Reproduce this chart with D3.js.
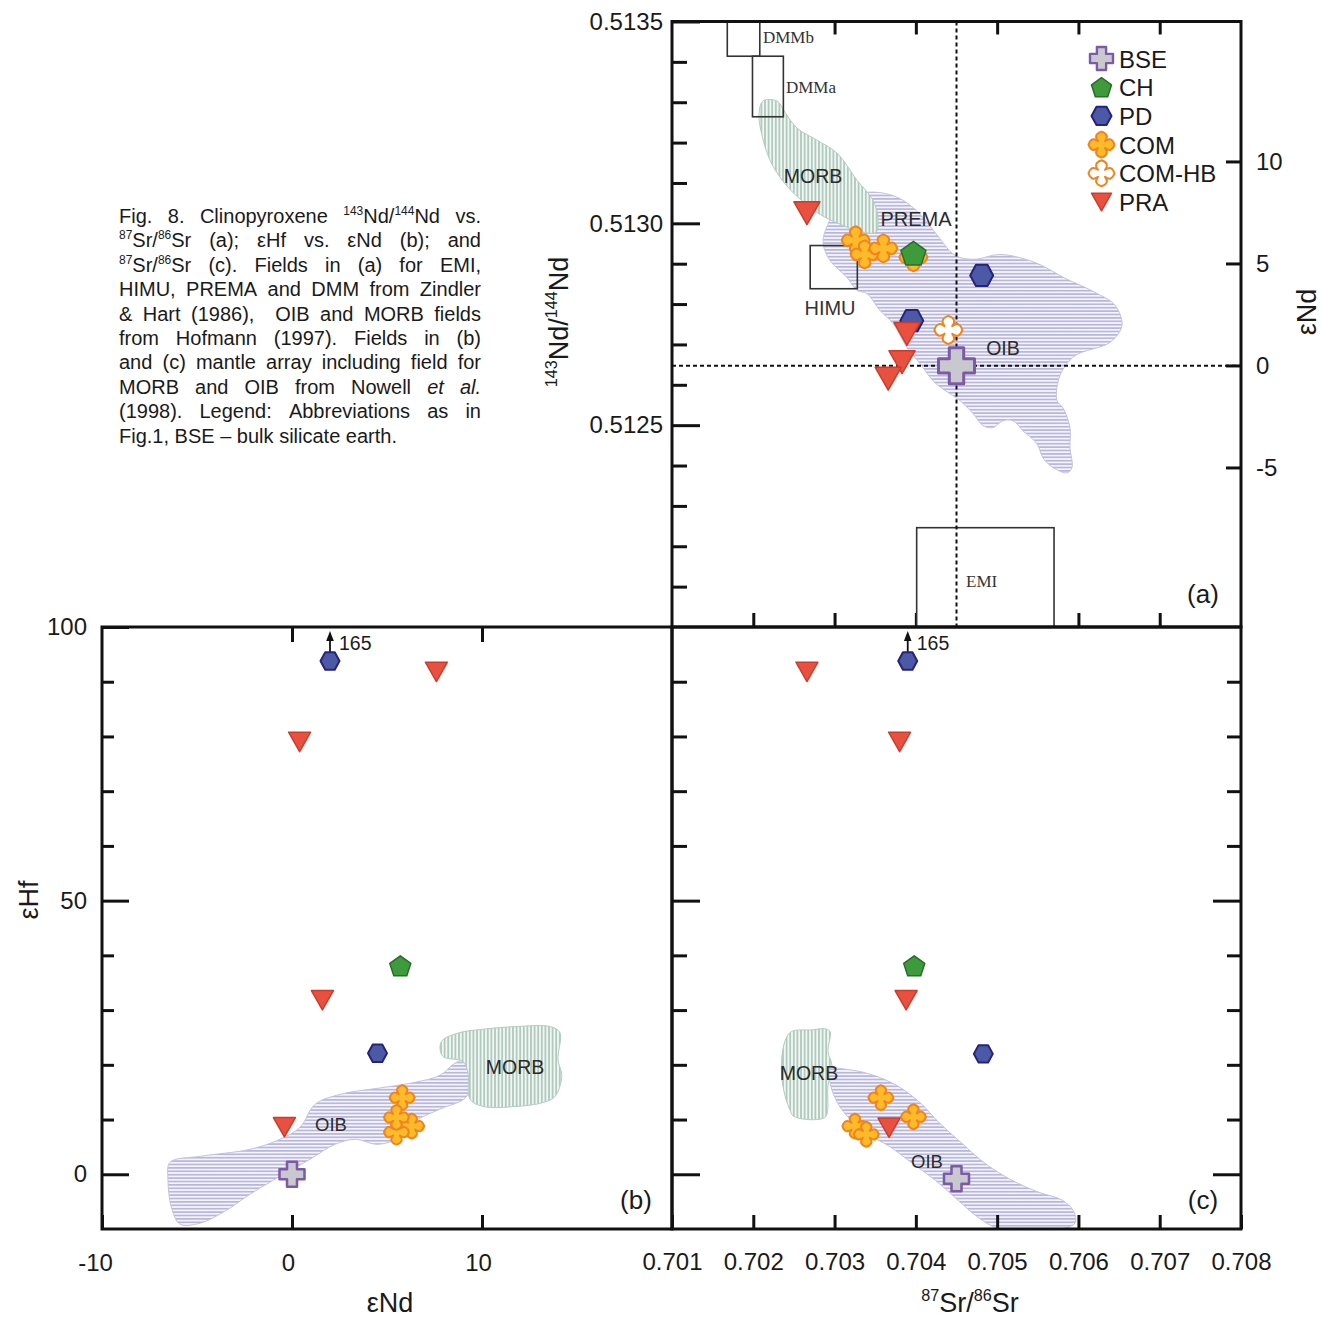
<!DOCTYPE html>
<html>
<head>
<meta charset="utf-8">
<title>Clinopyroxene Sr–Nd–Hf isotopes</title>
<script src="https://cdn.jsdelivr.net/npm/d3@7/dist/d3.min.js"></script>
<style>
  html, body { margin: 0; padding: 0; background: #ffffff; }
  svg { display: block; }
</style>
</head>
<body>
<svg id="chart"></svg>
<script>
// ---------------- data ----------------
const groups = ["BSE", "CH", "PD", "COM", "COM-HB", "PRA"];

// (a) 87Sr/86Sr vs 143Nd/144Nd : [group, Sr, Nd]  (draw order)
const pointsA = [
  ["COM", 0.70326, 0.512958], ["COM", 0.70337, 0.512923], ["COM", 0.70360, 0.512938], ["COM", 0.70397, 0.512916],
  ["CH", 0.70397, 0.512926],
  ["PD", 0.70395, 0.512759], ["PD", 0.70481, 0.512871],
  ["COM-HB", 0.70440, 0.512736],
  ["PRA", 0.70266, 0.513025], ["PRA", 0.70389, 0.512726], ["PRA", 0.70383, 0.512656], ["PRA", 0.70366, 0.512615],
  ["BSE", 0.70450, 0.512647]
];
// (b) εNd vs εHf : [group, εNd, εHf]
const pointsB = [
  ["COM", 6.3, 8.8], ["COM", 5.5, 7.7], ["COM", 5.8, 14.0], ["COM", 5.5, 10.4],
  ["CH", 5.7, 38.1],
  ["PD", 2.0, 165], ["PD", 4.5, 22.1],
  ["PRA", 7.6, 91.8], ["PRA", 0.4, 79.0], ["PRA", 1.6, 31.8], ["PRA", -0.4, 8.6],
  ["BSE", 0.0, 0.0]
];
// (c) 87Sr/86Sr vs εHf : [group, Sr, εHf]
const pointsC = [
  ["COM", 0.70325, 8.8], ["COM", 0.70339, 7.3], ["COM", 0.70357, 14.0], ["COM", 0.70397, 10.5],
  ["CH", 0.70398, 38.1],
  ["PD", 0.70390, 165], ["PD", 0.70483, 22.0],
  ["PRA", 0.70266, 91.8], ["PRA", 0.70380, 79.0], ["PRA", 0.70388, 31.8], ["PRA", 0.70367, 8.5],
  ["BSE", 0.70450, -0.8]
];
// εHf values above this are plotted at it, with an arrow and the true value
const HF_CAP = 93.8;

// mantle fields, (a): [Sr, Nd]
const morbA = [[0.702119,0.513303],[0.702292,0.513303],[0.702390,0.513275],[0.702538,0.513236],[0.702784,0.513206],
  [0.703030,0.513174],[0.703276,0.513107],[0.703473,0.513057],[0.703534,0.513012],[0.703510,0.512978],[0.703313,0.512980],
  [0.703067,0.512998],[0.702821,0.513022],[0.702575,0.513060],[0.702366,0.513104],[0.702206,0.513156],[0.702107,0.513218],
  [0.702070,0.513268]];
const oibA = [[0.702919,0.512998],[0.703091,0.513055],[0.703411,0.513077],[0.703743,0.513067],[0.703989,0.513035],
  [0.704235,0.512978],[0.704481,0.512921],[0.704727,0.512911],[0.705035,0.512923],[0.705466,0.512903],[0.705835,0.512864],
  [0.706204,0.512829],[0.706450,0.512797],[0.706536,0.512747],[0.706388,0.512705],[0.705958,0.512672],[0.705773,0.512623],
  [0.705736,0.512561],[0.705810,0.512543],[0.705896,0.512494],[0.705896,0.512444],[0.705921,0.512395],[0.705859,0.512382],
  [0.705687,0.512395],[0.705564,0.512419],[0.705490,0.512454],[0.705318,0.512486],[0.705195,0.512511],[0.705072,0.512511],
  [0.704949,0.512494],[0.704826,0.512499],[0.704703,0.512529],[0.704543,0.512561],[0.704358,0.512586],[0.704211,0.512610],
  [0.704051,0.512653],[0.703891,0.512692],[0.703719,0.512752],[0.703559,0.512784],[0.703399,0.512826],[0.703276,0.512834],
  [0.703153,0.512866],[0.702944,0.512908],[0.702858,0.512953]];
// (b): [εNd, εHf]
const morbB = [[7.95,24.6],[8.84,25.9],[10.05,26.5],[11.84,27.0],[13.58,27.0],[14.1,25.9],[14.0,21.0],[14.2,17.9],
  [13.84,14.2],[13.2,13.1],[11.84,12.4],[10.05,12.4],[9.37,13.7],[9.26,18.6],[9.0,20.6],[7.95,21.5],[7.79,23.4]];
const oibB = [[-6.42,2.19],[-4.84,3.28],[-2.21,4.56],[-0.63,6.39],[0.42,8.58],[1.21,12.77],[2.53,14.6],[4.89,15.9],
  [6.47,16.8],[7.79,18.1],[8.58,20.3],[9.26,21.0],[9.47,18.2],[9.16,14.1],[7.79,11.9],[6.47,9.7],[5.68,6.75],[4.53,5.47],
  [3.32,6.39],[2.26,5.47],[0.95,2.74],[-0.63,-0.36],[-2.21,-3.65],[-3.53,-6.75],[-4.84,-8.94],[-5.89,-9.12],[-6.32,-6.39],
  [-6.53,-0.91]];
// (c): [Sr, εHf]
const morbC = [[0.702402,24.8],[0.702471,26.1],[0.702731,26.4],[0.702870,26.6],[0.702944,26.1],[0.702919,22.4],
  [0.702968,19.9],[0.702919,16.2],[0.702894,10.6],[0.702784,10.0],[0.702495,10.6],[0.702448,11.9],[0.702402,13.7],
  [0.702353,17.3],[0.702353,21.7]];
const oibC = [[0.702944,19.25],[0.703108,19.25],[0.703436,18.3],[0.703768,16.2],[0.704051,13.1],[0.704288,9.4],
  [0.704567,5.66],[0.704850,2.0],[0.705183,-1.1],[0.705515,-3.3],[0.705798,-4.7],[0.705939,-6.7],[0.705962,-8.8],
  [0.705847,-9.8],[0.705325,-9.9],[0.704998,-9.8],[0.704759,-7.8],[0.704523,-4.8],[0.704240,-1.1],[0.703957,2.0],
  [0.703674,5.1],[0.703391,7.5],[0.703155,10.6],[0.703014,13.7],[0.702944,16.8]];

// mantle end-member boxes in (a)
const boxesA = [
  { name: "DMMb", sr: [0.70168, 0.70208], nd: [0.513414, 0.51350], label: [0.702119, 0.513447], anchor: "start" },
  { name: "DMMa", sr: [0.70199, 0.70237], nd: [0.513264, 0.513414], label: [0.702402, 0.513323], anchor: "start" },
  { name: "HIMU", sr: [0.70270, 0.70328], nd: [0.512838, 0.512945], label: [0.702944, 0.512772], anchor: "middle" },
  { name: "EMI",  sr: [0.70401, 0.70570], nd: [0.51200, 0.512246], label: [0.704617, 0.512099], anchor: "start" }
];
const sansBoxLabels = ["HIMU"];

const fieldLabelsA = [["MORB", 0.702735, 0.513099], ["PREMA", 0.704002, 0.512993], ["OIB", 0.705072, 0.512673]];
const fieldLabelsB = [["MORB", 11.74, 18.4], ["OIB", 2.05, 7.85]];
const fieldLabelsC = [["MORB", 0.702685, 17.15], ["OIB", 0.704137, 1.1]];

// ticks
const srTicks = [0.701, 0.702, 0.703, 0.704, 0.705, 0.706, 0.707, 0.708];
const srInnerTicks = [0.702, 0.703, 0.704, 0.705, 0.706, 0.707];
const ndTickLabels = [0.5125, 0.5130, 0.5135];
const ndMinorTicks = [0.5121, 0.5122, 0.5123, 0.5124, 0.5126, 0.5127, 0.5128, 0.5129, 0.5131, 0.5132, 0.5133, 0.5134];
const epsNdTicks = [-5, 0, 5, 10];
const EPS_ND_EXTENT = [-12.82, 16.86];
const eNdTicksB = [-10, 0, 10];
const eNdInnerB = [0, 10];
const hfTickLabels = [0, 50, 100];
const hfMajorInner = [0, 50];
const hfMinorTicks = [10, 20, 30, 40, 60, 70, 80, 90];

const captionLines = [
  "Fig. 8. Clinopyroxene ^143Nd/^144Nd vs.",
  "^87Sr/^86Sr (a); εHf vs. εNd (b); and",
  "^87Sr/^86Sr (c). Fields in (a) for EMI,",
  "HIMU, PREMA and DMM from Zindler",
  "& Hart (1986),  OIB and MORB fields",
  "from Hofmann (1997). Fields in (b)",
  "and (c) mantle array including field for",
  "MORB and OIB from Nowell _et _al.",
  "(1998). Legend: Abbreviations as in",
  "Fig.1, BSE – bulk silicate earth."
];

// ---------------- layout & styles ----------------
const W = 1321, H = 1320;
const FONT = '"Liberation Sans", Arial, Helvetica, sans-serif';
const SERIF = '"Liberation Serif", "Times New Roman", serif';
const INK = "#1a1a1a";
const TICK_FONT = 24;
const A = { x0: 672, x1: 1241, y0: 21.5, y1: 627 };
const B = { x0: 102, x1: 672, y0: 627, y1: 1229 };
const C = { x0: 672, x1: 1241, y0: 627, y1: 1229 };

const markerStyle = {
  "BSE":    { fill: "#c9c8ce", stroke: "#7b5ba7", sw: 3 },
  "CH":     { fill: "#3d9b3b", stroke: "#2a6d2a", sw: 1.5 },
  "PD":     { fill: "#4b59a7", stroke: "#26237a", sw: 2 },
  "COM":    { fill: "#fdba2b", stroke: "#f1841c", sw: 2 },
  "COM-HB": { fill: "#ffffff", stroke: "#f1841c", sw: 2 },
  "PRA":    { fill: "#e8513f", stroke: "#cf3b2b", sw: 1.5 }
};
const sizeA = { "BSE": 36, "CH": 25, "PD": 23, "COM": 28, "COM-HB": 28, "PRA": 26 };
const sizeBC = { "BSE": 25, "CH": 21, "PD": 19, "COM": 25, "COM-HB": 25, "PRA": 22 };
const sizeLegend = { "BSE": 23, "CH": 20, "PD": 20, "COM": 26, "COM-HB": 26, "PRA": 20 };

// ---------------- scales ----------------
const xSr  = d3.scaleLinear().domain([0.701, 0.708]).range([A.x0, A.x1]);
const yNd  = d3.scaleLinear().domain([0.5120, 0.5135]).range([A.y1, A.y0]);
const yEps = d3.scaleLinear().domain(EPS_ND_EXTENT).range([A.y1, A.y0]);
const xEnd = d3.scaleLinear().domain([-10, 20]).range([B.x0, B.x1]);
const yHf  = d3.scaleLinear().domain([-10, 100]).range([B.y1, B.y0]);

const svg = d3.select("#chart").attr("width", W).attr("height", H)
  .attr("font-family", FONT);
svg.append("rect").attr("width", W).attr("height", H).attr("fill", "#ffffff");
const defs = svg.append("defs");

// hatch fills for the mantle fields
function hatch(id, vertical, bg, fg, step) {
  const p = defs.append("pattern").attr("id", id).attr("patternUnits", "userSpaceOnUse")
    .attr("width", step).attr("height", step);
  p.append("rect").attr("width", step).attr("height", step).attr("fill", bg);
  if (vertical) p.append("line").attr("x1", step / 2).attr("x2", step / 2).attr("y1", 0).attr("y2", step);
  else p.append("line").attr("y1", step / 2).attr("y2", step / 2).attr("x1", 0).attr("x2", step);
  p.select("line").attr("stroke", fg).attr("stroke-width", 1);
}
hatch("hatch-morb", true, "#f0f6f2", "#7ea797", 3.6);
hatch("hatch-oib", false, "#f5f4fb", "#8d8dc6", 3.4);

function clip(id, f) {
  defs.append("clipPath").attr("id", id).append("rect")
    .attr("x", f.x0).attr("y", f.y0).attr("width", f.x1 - f.x0).attr("height", f.y1 - f.y0);
}
clip("clip-a", A); clip("clip-b", B); clip("clip-c", C);

// ---------------- helpers ----------------
function shapePath(type, s) {
  const r = s / 2;
  if (type === "PRA") {
    const h = s * 0.88;
    return `M${-r},${-h / 2}L${r},${-h / 2}L0,${h / 2}Z`;
  }
  if (type === "PD") {
    const h = s * 0.46;
    return `M${-r},0L${-r / 2},${-h}L${r / 2},${-h}L${r},0L${r / 2},${h}L${-r / 2},${h}Z`;
  }
  if (type === "CH") {
    const R = s / 1.902, dy = 0.095 * R;
    let d = "";
    for (let i = 0; i < 5; i++) {
      const a = -Math.PI / 2 + i * 2 * Math.PI / 5;
      d += (i ? "L" : "M") + (R * Math.cos(a)).toFixed(2) + "," + (R * Math.sin(a) + dy).toFixed(2);
    }
    return d + "Z";
  }
  if (type === "BSE") {
    const a = s * 0.2;
    return `M${-a},${-r}H${a}V${-a}H${r}V${a}H${a}V${r}H${-a}V${a}H${-r}V${-a}H${-a}Z`;
  }
  // COM / COM-HB: lobed cross with rounded arms
  const c = r * 0.27, k = r * 0.66, m = r * 0.78;
  return `M${c},${-c}Q${k},${-m} 0,${-r}Q${-k},${-m} ${-c},${-c}` +
         `Q${-m},${-k} ${-r},0Q${-m},${k} ${-c},${c}` +
         `Q${-k},${m} 0,${r}Q${k},${m} ${c},${c}` +
         `Q${m},${k} ${r},0Q${m},${-k} ${c},${-c}Z`;
}

function marker(g, type, x, y, s, swScale = 1) {
  const st = markerStyle[type];
  g.append("path").attr("d", shapePath(type, s))
    .attr("transform", `translate(${x},${y})`)
    .attr("fill", st.fill).attr("stroke", st.stroke)
    .attr("stroke-width", st.sw * swScale).attr("stroke-linejoin", "round");
}

function addRich(parent, str, size) {
  const t = parent.append("text").attr("font-size", size).attr("fill", INK);
  let s = str;
  if (s.startsWith("_")) { t.attr("font-style", "italic"); s = s.slice(1); }
  const parts = s.split(/(\^\d+)/).filter(p => p.length);
  const rise = size * 0.4;
  let up = false;
  parts.forEach(p => {
    const ts = t.append("tspan");
    if (p[0] === "^") { ts.attr("font-size", size * 0.6).attr("dy", up ? 0 : -rise).text(p.slice(1)); up = true; }
    else { ts.attr("dy", up ? rise : 0).text(p); up = false; }
  });
  return t;
}

function axisG(parent, axis, tx, ty, fontSize = TICK_FONT) {
  const g = parent.append("g").attr("transform", `translate(${tx},${ty})`).call(axis);
  g.attr("font-family", null).attr("font-size", null);
  g.select(".domain").remove();
  g.selectAll(".tick line").attr("stroke", "#111").attr("stroke-width", 3);
  g.selectAll(".tick text").attr("font-family", FONT).attr("font-size", fontSize).attr("fill", INK);
  return g;
}

const line = d3.line().curve(d3.curveCatmullRomClosed.alpha(0.5));
function field(g, pts, xs, ys, kind) {
  g.append("path")
    .attr("d", line(pts.map(p => [xs(p[0]), ys(p[1])])))
    .attr("fill", `url(#hatch-${kind})`)
    .attr("stroke", kind === "oib" ? "#c4c3df" : "#b3cdc0")
    .attr("stroke-width", 1);
}

function frame(f) {
  svg.append("rect").attr("x", f.x0).attr("y", f.y0)
    .attr("width", f.x1 - f.x0).attr("height", f.y1 - f.y0)
    .attr("fill", "none").attr("stroke", "#111").attr("stroke-width", 3);
}

function fieldLabel(g, text, x, y, size) {
  g.append("text").attr("x", x).attr("y", y).attr("text-anchor", "middle")
    .attr("font-size", size).attr("fill", "#2b2b2b").text(text);
}

const fmtPlain = d => String(d);

// ---------------- panel (a) ----------------
const gA = svg.append("g");
axisG(gA, d3.axisLeft(yNd).tickValues(ndMinorTicks).tickSize(-15).tickFormat(""), A.x0, 0);
axisG(gA, d3.axisLeft(yNd).tickValues(ndTickLabels).tickSize(-28).tickPadding(9).tickFormat(d3.format(".4f")), A.x0, 0);
axisG(gA, d3.axisRight(yEps).tickValues(epsNdTicks).tickSize(-15).tickPadding(15).tickFormat(fmtPlain), A.x1, 0);
axisG(gA, d3.axisTop(xSr).tickValues(srInnerTicks).tickSize(-13).tickFormat(""), 0, A.y0);
axisG(gA, d3.axisBottom(xSr).tickValues(srInnerTicks).tickSize(-14).tickFormat(""), 0, A.y1);

const gAf = gA.append("g").attr("clip-path", "url(#clip-a)");
// box interiors first, so fields show through where they overlap
gAf.selectAll("rect.box-bg").data(boxesA).join("rect").attr("class", "box-bg")
  .attr("x", d => xSr(d.sr[0])).attr("y", d => yNd(d.nd[1]))
  .attr("width", d => xSr(d.sr[1]) - xSr(d.sr[0])).attr("height", d => yNd(d.nd[0]) - yNd(d.nd[1]))
  .attr("fill", "#ffffff");
field(gAf, oibA, xSr, yNd, "oib");
field(gAf, morbA, xSr, yNd, "morb");
gAf.selectAll("rect.box").data(boxesA).join("rect").attr("class", "box")
  .attr("x", d => xSr(d.sr[0])).attr("y", d => yNd(d.nd[1]))
  .attr("width", d => xSr(d.sr[1]) - xSr(d.sr[0])).attr("height", d => yNd(d.nd[0]) - yNd(d.nd[1]))
  .attr("fill", "none").attr("stroke", "#333").attr("stroke-width", 1.6);
boxesA.forEach(b => {
  const sans = sansBoxLabels.includes(b.name);
  gA.append("text").attr("x", xSr(b.label[0])).attr("y", yNd(b.label[1]))
    .attr("text-anchor", b.anchor)
    .attr("font-family", sans ? FONT : SERIF)
    .attr("font-size", sans ? 20 : 17).attr("fill", "#333").text(b.name);
});
fieldLabelsA.forEach(([t, sr, nd]) => fieldLabel(gA, t, xSr(sr), yNd(nd), t === "PREMA" ? 20 : 19.5));

frame(A);

// BSE reference lines
const bse = pointsA.find(p => p[0] === "BSE");
svg.append("line").attr("x1", xSr(bse[1])).attr("x2", xSr(bse[1])).attr("y1", A.y0).attr("y2", A.y1)
  .attr("stroke", "#111").attr("stroke-width", 2).attr("stroke-dasharray", "4,3");
svg.append("line").attr("x1", A.x0).attr("x2", A.x1).attr("y1", yNd(bse[2])).attr("y2", yNd(bse[2]))
  .attr("stroke", "#111").attr("stroke-width", 2).attr("stroke-dasharray", "4,3");

const gAm = svg.append("g");
pointsA.forEach(([grp, sr, nd]) => marker(gAm, grp, xSr(sr), yNd(nd), sizeA[grp]));

// legend
const legend = svg.append("g");
groups.forEach((grp, i) => {
  const y = 58.5 + i * 28.7;
  marker(legend, grp, 1101.5, y, sizeLegend[grp], grp === "BSE" ? 0.8 : 1);
  legend.append("text").attr("x", 1119).attr("y", y + 9).attr("font-size", 24).attr("fill", INK).text(grp);
});

// ---------------- panel (b) ----------------
const gB = svg.append("g");
const gBf = gB.append("g").attr("clip-path", "url(#clip-b)");
field(gBf, oibB, xEnd, yHf, "oib");
field(gBf, morbB, xEnd, yHf, "morb");
fieldLabelsB.forEach(([t, x, y]) => fieldLabel(gB, t, xEnd(x), yHf(y), t === "OIB" ? 18.5 : 19.5));

axisG(gB, d3.axisLeft(yHf).tickValues(hfMinorTicks).tickSize(-12).tickFormat(""), B.x0, 0);
axisG(gB, d3.axisLeft(yHf).tickValues(hfTickLabels).tickSize(-27).tickPadding(15).tickFormat(fmtPlain), B.x0, 0);
axisG(gB, d3.axisBottom(xEnd).tickValues(eNdInnerB).tickSize(15).tickFormat(""), 0, B.y0);
const axB = axisG(gB, d3.axisBottom(xEnd).tickValues(eNdTicksB).tickSize(-14).tickPadding(25).tickFormat(fmtPlain), 0, B.y1);
axB.selectAll(".tick text").attr("dx", d => d < 0 ? -7 : -4);

// ---------------- panel (c) ----------------
const gC = svg.append("g");
const gCf = gC.append("g").attr("clip-path", "url(#clip-c)");
field(gCf, morbC, xSr, yHf, "morb");
field(gCf, oibC, xSr, yHf, "oib");
fieldLabelsC.forEach(([t, sr, hf]) => fieldLabel(gC, t, xSr(sr), yHf(hf), t === "OIB" ? 18.5 : 19.5));

axisG(gC, d3.axisRight(yHf).tickValues(hfMinorTicks).tickSize(15).tickFormat(""), C.x0, 0);
axisG(gC, d3.axisRight(yHf).tickValues(hfMajorInner).tickSize(28).tickFormat(""), C.x0, 0);
axisG(gC, d3.axisLeft(yHf).tickValues(hfMinorTicks).tickSize(14).tickFormat(""), C.x1, 0);
axisG(gC, d3.axisLeft(yHf).tickValues(hfMajorInner).tickSize(28).tickFormat(""), C.x1, 0);
axisG(gC, d3.axisBottom(xSr).tickValues(srTicks).tickSize(-14).tickPadding(24).tickFormat(d3.format(".3f")), 0, C.y1);

frame(B);
frame(C);

// markers for (b) and (c); off-scale εHf drawn at the cap with an arrow
function hfMarkers(pts, xs) {
  const g = svg.append("g");
  pts.forEach(([grp, xv, hf]) => {
    const off = hf > HF_CAP;
    const x = xs(xv), y = yHf(off ? HF_CAP : hf);
    if (off) {
      const tip = yHf(100) + 4;
      g.append("line").attr("x1", x).attr("x2", x).attr("y1", y - 8).attr("y2", tip + 8)
        .attr("stroke", "#111").attr("stroke-width", 1.8);
      g.append("path").attr("d", `M${x},${tip}L${x - 3.8},${tip + 10}L${x + 3.8},${tip + 10}Z`).attr("fill", "#111");
      g.append("text").attr("x", x + 9).attr("y", y - 11).attr("font-size", 19.5).attr("fill", INK).text(fmtPlain(hf));
    }
    marker(g, grp, x, y, sizeBC[grp], grp === "BSE" ? 0.85 : 1);
  });
}
hfMarkers(pointsB, xEnd);
hfMarkers(pointsC, xSr);

// ---------------- titles & panel letters ----------------
svg.append("text").attr("x", 1203).attr("y", 603).attr("text-anchor", "middle").attr("font-size", 26).attr("fill", INK).text("(a)");
svg.append("text").attr("x", 636).attr("y", 1209).attr("text-anchor", "middle").attr("font-size", 26).attr("fill", INK).text("(b)");
svg.append("text").attr("x", 1203).attr("y", 1209).attr("text-anchor", "middle").attr("font-size", 26).attr("fill", INK).text("(c)");

addRich(svg, "εNd", 27).attr("x", 390).attr("y", 1312).attr("text-anchor", "middle");
addRich(svg, "^87Sr/^86Sr", 27).attr("x", 970).attr("y", 1312).attr("text-anchor", "middle");
addRich(svg, "εHf", 27).attr("text-anchor", "middle").attr("transform", "translate(38,900) rotate(-90)");
addRich(svg, "^143Nd/^144Nd", 27).attr("text-anchor", "middle").attr("transform", "translate(568,322) rotate(-90)");
addRich(svg, "εNd", 27).attr("text-anchor", "middle").attr("transform", "translate(1316,312) rotate(-90)");

// ---------------- caption (justified) ----------------
const CAP_X0 = 119, CAP_X1 = 481, CAP_Y0 = 223, CAP_DY = 24.4, CAP_SIZE = 20;
const cap = svg.append("g");
captionLines.forEach((ln, i) => {
  const y = CAP_Y0 + i * CAP_DY;
  const words = ln.split(" ");
  const nodes = words.map(w => w ? addRich(cap, w, CAP_SIZE).attr("y", y) : null);
  const widths = nodes.map(n => n ? n.node().getComputedTextLength() : 0);
  const last = i === captionLines.length - 1;
  const gap = last ? CAP_SIZE * 0.278 : (CAP_X1 - CAP_X0 - d3.sum(widths)) / (words.length - 1);
  let x = CAP_X0;
  nodes.forEach((n, j) => { if (n) n.attr("x", x); x += widths[j] + gap; });
});
</script>
</body>
</html>
